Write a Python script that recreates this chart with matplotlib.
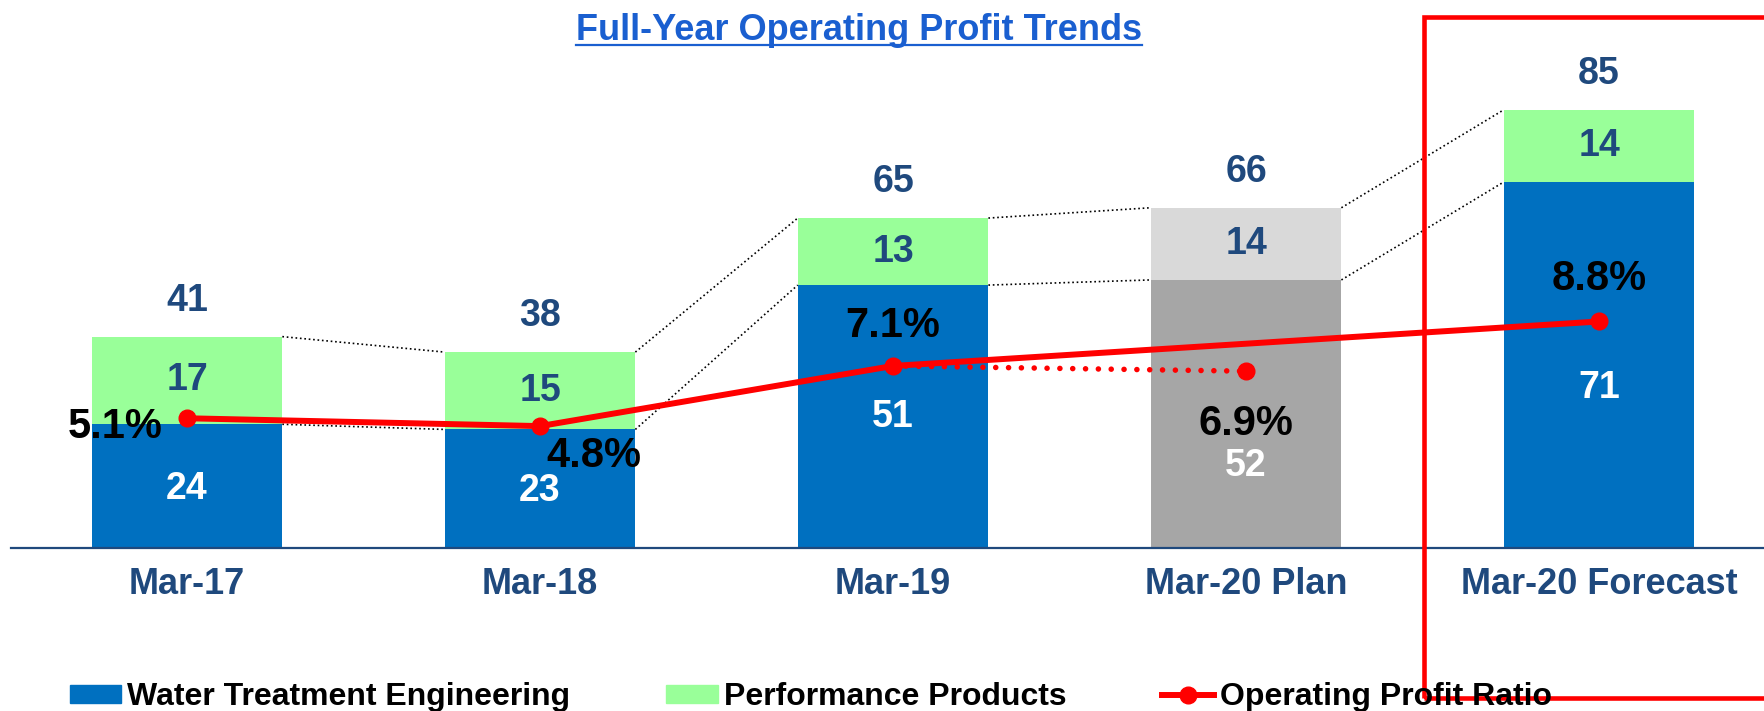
import matplotlib
matplotlib.use("Agg")
import matplotlib.pyplot as plt
from matplotlib.patches import Patch, Rectangle
from matplotlib.lines import Line2D

plt.rcParams['font.family'] = ['Liberation Sans', 'DejaVu Sans']
plt.rcParams['font.weight'] = 'bold'

############################# Data ######################################
categories = ["Mar-17", "Mar-18", "Mar-19", "Mar-20 Plan", "Mar-20 Forecast"]
water = [24, 23, 51, 52, 71]          # Water Treatment Engineering
perf = [17, 15, 13, 14, 14]           # Performance Products
totals = [41, 38, 65, 66, 85]         # labelled totals
ratio = [5.1, 4.8, 7.1, 6.9, 8.8]     # Operating profit ratio (%)
plan_idx = 3

# layout helpers (not data)
W, H = 1765, 711
bottom_colors = ["#0070C0", "#0070C0", "#0070C0", "#A6A6A6", "#0070C0"]
top_colors = ["#99FF99", "#99FF99", "#99FF99", "#D9D9D9", "#99FF99"]
low_label_y = [11.5, 11, 25.5, 16, 31]
pct_offsets = [(-24, -9, 'right'), (6, -30, 'left'), (0, 40, 'center'),
               (0, -53, 'center'), (0, 42, 'center')]
navy = "#1F497D"
red = "#FF0000"

fig = plt.figure(figsize=(W / 100, H / 100), dpi=100)
ax = fig.add_axes([11 / W, 163 / H, 1754 / W, 548 / H])
ax.set_xlim(-0.4986, 4.470)
ax.set_ylim(0, 106.3)

x = list(range(len(categories)))
bw = 0.54
ax.bar(x, water, width=bw, color=bottom_colors, zorder=2)
ax.bar(x, perf, width=bw, bottom=water, color=top_colors, zorder=2)

# dotted connectors between bars
for i in range(len(x) - 1):
    top_a = water[i] + perf[i]
    top_b = water[i + 1] + perf[i + 1]
    ax.plot([x[i] + bw / 2, x[i + 1] - bw / 2], [top_a, top_b],
            ls=':', color='black', lw=1.2, zorder=1)
    ax.plot([x[i] + bw / 2, x[i + 1] - bw / 2], [water[i], water[i + 1]],
            ls=':', color='black', lw=1.2, zorder=1)

# value labels
for i in x:
    ax.text(x[i], low_label_y[i], str(water[i]), ha='center', va='center',
            fontsize=27, color='white', fontweight='bold', zorder=3)
    ax.text(x[i], water[i] + perf[i] / 2, str(perf[i]), ha='center', va='center',
            fontsize=27, color=navy, fontweight='bold', zorder=3)
    ax.annotate(str(totals[i]), (x[i], water[i] + perf[i]), xytext=(0, 36),
                textcoords='offset pixels', ha='center', va='center',
                fontsize=27, color=navy, fontweight='bold')

for s in ['top', 'left', 'right']:
    ax.spines[s].set_visible(False)
ax.spines['bottom'].set_color(navy)
ax.spines['bottom'].set_linewidth(1.6)
ax.set_yticks([])
ax.set_xticks(x)
ax.set_xticklabels(categories, fontsize=26, color=navy, fontweight='bold')
ax.tick_params(axis='x', length=0, pad=14)

# ratio line on secondary axis
ax2 = ax.twinx()
ax2.set_ylim(0.14, 21.09)
ax2.set_yticks([])
for s in ax2.spines.values():
    s.set_visible(False)

solid = [i for i in x if i != plan_idx]
ax2.plot(solid, [ratio[i] for i in solid], '-o', color=red, lw=4.3, ms=12, zorder=4)
ax2.plot([2, plan_idx], [ratio[2], ratio[plan_idx]], color=red, lw=4.0,
         ls=(0, (0.01, 2.3)), dash_capstyle='round', zorder=4)
ax2.plot(plan_idx, ratio[plan_idx], 'o', color=red, ms=12, zorder=4)

for i in x:
    dx, dy, ha = pct_offsets[i]
    ax2.annotate(f"{ratio[i]:.1f}%", (x[i], ratio[i]), xytext=(dx, dy),
                 textcoords='offset pixels', ha=ha, va='center',
                 fontsize=30, color='black', fontweight='bold', zorder=5)

# title with underline
title_col = "#1A5FD0"
t = fig.text(859 / W, 1 - 31 / H, "Full-Year Operating Profit Trends", ha='center',
             va='center', fontsize=26, color=title_col, fontweight='bold')
fig.canvas.draw()
bb = t.get_window_extent().transformed(fig.transFigure.inverted())
fig.add_artist(Line2D([bb.x0, bb.x1], [1 - 45 / H, 1 - 45 / H], color=title_col,
                      lw=1.6, transform=fig.transFigure))

# red highlight box (runs off the right edge)
fig.add_artist(Rectangle((1424 / W, 13 / H), 0.5, 681 / H, transform=fig.transFigure,
                         fill=False, ec=red, lw=3.3))

# legend
handles = [Patch(color="#0070C0"), Patch(color="#99FF99"),
           Line2D([], [], color=red, lw=4.3, marker='o', ms=12)]
labels = ["Water Treatment Engineering", "Performance Products", "Operating Profit Ratio"]
fig.legend(handles, labels, loc='center left', bbox_to_anchor=(70 / W, 14 / H),
           ncol=3, frameon=False, prop={'weight': 'bold', 'size': 23},
           handlelength=1.6, handleheight=0.5, handletextpad=0.2,
           columnspacing=3.0, borderpad=0, borderaxespad=0)

plt.savefig("out.png", dpi=100)
